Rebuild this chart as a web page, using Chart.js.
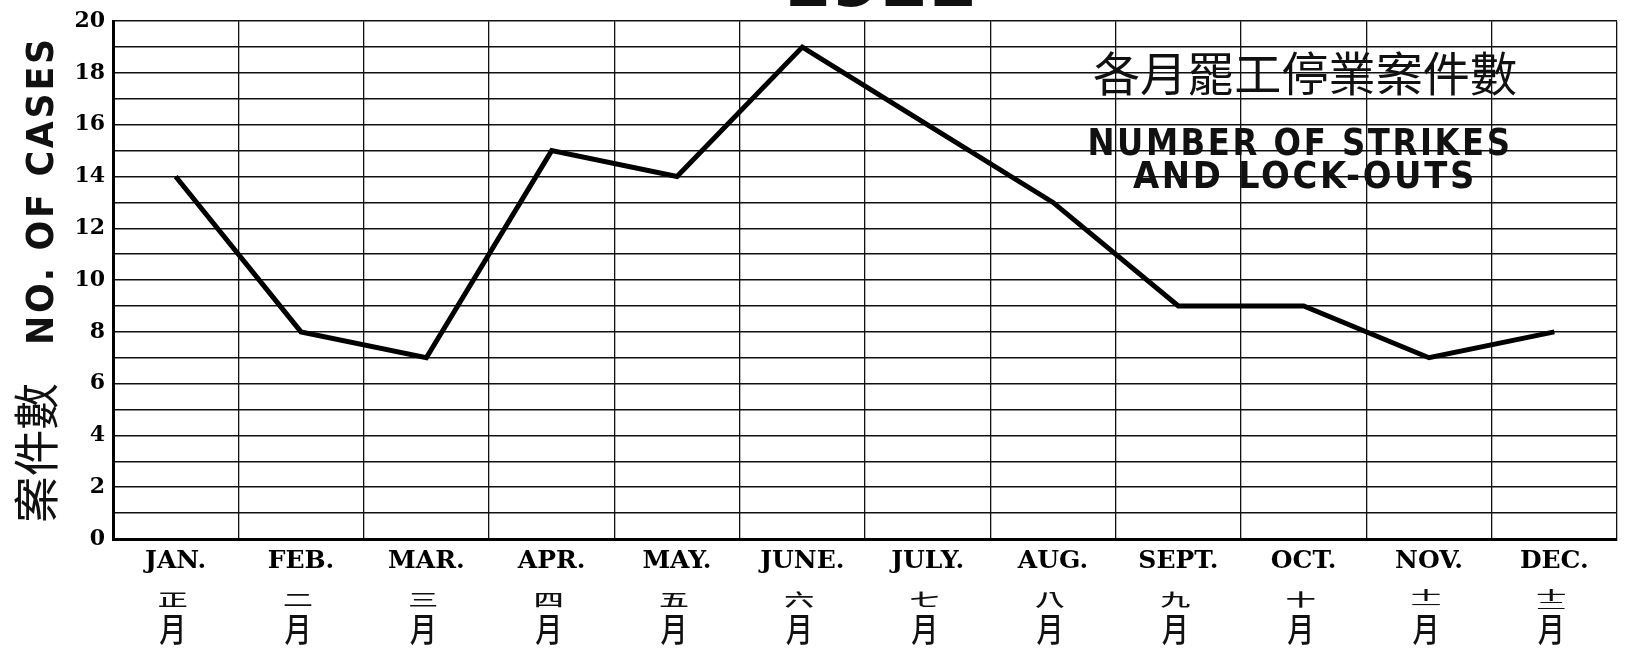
<!DOCTYPE html>
<html>
<head>
<meta charset="utf-8">
<script src="https://cdn.jsdelivr.net/npm/chart.js@4.4.0/dist/chart.umd.min.js"></script>
<style>
html, body { margin: 0; padding: 0; background: #fff; }
</style>
</head>
<body>
<canvas id="strikeChart" width="1625" height="653"></canvas>
<script>
// Data
const months = ['JAN.', 'FEB.', 'MAR.', 'APR.', 'MAY.', 'JUNE.', 'JULY.', 'AUG.', 'SEPT.', 'OCT.', 'NOV.', 'DEC.'];
const monthsZh = ['正', '二', '三', '四', '五', '六', '七', '八', '九', '十', '十一', '十二'];
const cases = [14, 8, 7, 15, 14, 19, 16, 13, 9, 9, 7, 8];
const yMin = 0;
const yMax = 20;
const yStep = 1;

const yearText = '1922';
const titleZh = '各月罷工停業案件數';
const titleEn = ['NUMBER OF STRIKES', 'AND LOCK-OUTS'];
const axisTitleZh = '案件數';
const axisTitleEn = 'NO. OF CASES';

const INK = '#111';

// draw text squeezed/stretched to a given width
function fitText(ctx, text, x, y, width, align) {
    const w = ctx.measureText(text).width;
    ctx.save();
    ctx.translate(x, y);
    ctx.scale(width / w, 1);
    ctx.textAlign = align;
    ctx.fillText(text, 0, 0);
    ctx.restore();
}

const extraText = {
    id: 'extraText',
    afterDraw(chart) {
        const ctx = chart.ctx;
        const xScale = chart.scales.x;
        ctx.save();
        ctx.fillStyle = INK;
        ctx.textBaseline = 'alphabetic';

        // year heading, mostly cut off at the top
        ctx.font = 'bold 64px "DejaVu Sans"';
        fitText(ctx, yearText, 880, 6, 196, 'center');

        // title inside the plot
        ctx.font = '400 47px "Noto Sans CJK TC"';
        ctx.textBaseline = 'middle';
        fitText(ctx, titleZh, 1305, 73, 424, 'center');
        ctx.textBaseline = 'alphabetic';
        ctx.font = '600 38px "DejaVu Sans"';
        ctx.letterSpacing = '3px';
        fitText(ctx, titleEn[0], 1300, 155, 425, 'center');
        fitText(ctx, titleEn[1], 1305, 188, 344, 'center');
        ctx.letterSpacing = '0px';

        // y axis title, rotated
        ctx.save();
        ctx.translate(0, 523);
        ctx.rotate(-Math.PI / 2);
        ctx.font = '400 46px "Noto Sans CJK TC"';
        ctx.textBaseline = 'middle';
        fitText(ctx, axisTitleZh, 0, 36, 140, 'left');
        ctx.font = 'bold 38px "DejaVu Sans"';
        ctx.textBaseline = 'alphabetic';
        ctx.letterSpacing = '3px';
        fitText(ctx, axisTitleEn, 178, 53, 309, 'left');
        ctx.letterSpacing = '0px';
        ctx.restore();

        // Chinese month names under the English ones
        ctx.textAlign = 'center';
        ctx.textBaseline = 'middle';
        ctx.font = '500 30px "Noto Sans CJK TC"';
        monthsZh.forEach((m, i) => {
            const x = xScale.getPixelForValue(i) - 3;
            if (m.length === 1) {
                ctx.save();
                ctx.translate(x, 600);
                ctx.scale(1, 0.55);
                ctx.fillText(m, 0, 0);
                ctx.restore();
            } else {
                ctx.save();
                ctx.translate(x, 595);
                ctx.scale(1, 0.4);
                ctx.fillText(m[0], 0, 0);
                ctx.restore();
                ctx.save();
                ctx.translate(x, 605);
                ctx.scale(1, 0.35);
                ctx.fillText(m[1], 0, 0);
                ctx.restore();
            }
            ctx.save();
            ctx.translate(x, 629);
            ctx.font = '500 27px "Noto Sans CJK TC"';
            ctx.scale(1, 1.25);
            ctx.fillText('月', 0, 0);
            ctx.restore();
        });
        ctx.restore();
    }
};

const ctx = document.getElementById('strikeChart').getContext('2d');
const strikeChart = new Chart(ctx, {
    type: 'line',
    data: {
        labels: months,
        datasets: [{
            label: 'Cases',
            data: cases,
            borderColor: '#000',
            borderWidth: 5,
            borderJoinStyle: 'miter',
            pointRadius: 0,
            tension: 0,
            fill: false
        }]
    },
    options: {
        responsive: false,
        animation: false,
        devicePixelRatio: 1,
        layout: { padding: { top: 16, right: 8, left: 0, bottom: 0 } },
        plugins: {
            legend: { display: false },
            tooltip: { enabled: false }
        },
        scales: {
            x: {
                type: 'category',
                offset: true,
                grid: { offset: true, color: INK, lineWidth: 1.3, drawTicks: false },
                border: { color: '#000', width: 3 },
                ticks: {
                    color: '#000',
                    padding: 7,
                    maxRotation: 0,
                    autoSkip: false,
                    font: { family: '"DejaVu Serif"', weight: 'bold', size: 25 }
                },
                afterFit(scale) { scale.height = 114; }
            },
            y: {
                min: yMin,
                max: yMax,
                grid: { color: INK, lineWidth: 1.5, drawTicks: false },
                border: { color: '#000', width: 3 },
                ticks: {
                    stepSize: yStep,
                    autoSkip: false,
                    color: '#000',
                    padding: 8,
                    font: { family: '"DejaVu Serif"', weight: 'bold', size: 22 },
                    callback: v => (v % 2 === 0 ? v : '')
                },
                afterFit(scale) { scale.width = 113; }
            }
        }
    },
    plugins: [extraText]
});
</script>
</body>
</html>
